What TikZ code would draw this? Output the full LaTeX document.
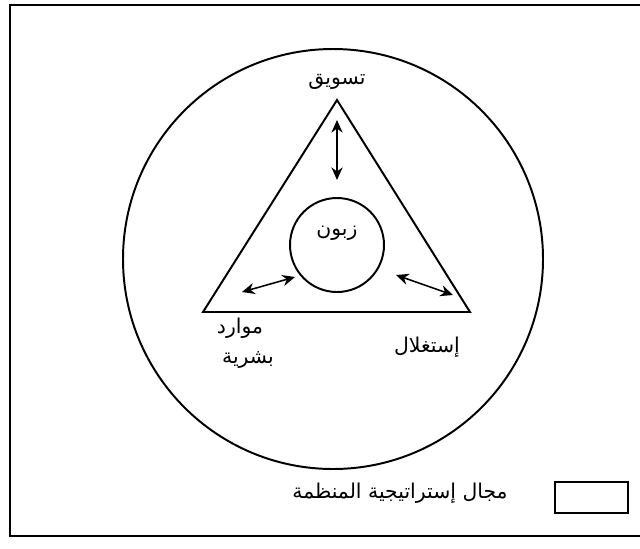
\documentclass[tikz,border=0pt]{standalone}
\usepackage{fontspec}
\newfontfamily\arabicfont[Script=Arabic]{DejaVu Sans}
\TeXXeTstate=1
\usetikzlibrary{arrows.meta}

\begin{document}
\begin{tikzpicture}[
  line width=1.4pt,
  every node/.style = {font=\arabicfont\fontsize{14.5}{16}\selectfont},
  ring/.style = {draw, circle, inner sep=0pt},
  twoway/.style = {{Stealth[length=9pt,width=8pt]}-{Stealth[length=9pt,width=8pt]}, line width=1.1pt},
]
\useasboundingbox (0,0) rectangle (16,-13.7);

% ── Outer frame (right side runs off the page) ──────────────────────────
\draw (16.3,-0.125) -- (0.25,-0.125) -- (0.25,-13.4) -- (16.3,-13.4);

% ── Strategy field and triangle ─────────────────────────────────────────
\node[ring, minimum size=10.5cm] (field) at (8.325,-6.475) {};

\coordinate (apex)  at (8.425,-2.5);
\coordinate (left)  at (5.075,-7.8);
\coordinate (right) at (11.75,-7.8);
\draw[line join=miter] (apex) -- (left) -- (right) -- cycle;

% ── Client in the middle ────────────────────────────────────────────────
\node[ring, minimum size=2.35cm] (client) at (8.425,-6.125) {};
\node (clientlbl) at (8.425,-5.825) {\beginR زبون\endR};

% ── Corner labels ───────────────────────────────────────────────────────
\node (marketing) at (8.425,-2.05)  {\beginR تسويق\endR};
\node (resources) at (6.0,-8.2)     {\beginR موارد\endR};
\node (human)     at (6.2,-9.0)     {\beginR بشرية\endR};
\node (exploit)   at (10.675,-8.675) {\beginR إستغلال\endR};

% ── Two-way arrows ──────────────────────────────────────────────────────
\coordinate (t1) at (8.425,-3.0);   \coordinate (t2) at (8.425,-4.5);
\coordinate (l1) at (6.05,-7.3);    \coordinate (l2) at (7.375,-6.925);
\coordinate (r1) at (9.9,-6.875);   \coordinate (r2) at (11.325,-7.375);
\draw[twoway] (t1) -- (t2);
\draw[twoway] (l1) -- (l2);
\draw[twoway] (r1) -- (r2);

% ── Legend ──────────────────────────────────────────────────────────────
\node[draw, minimum width=1.825cm, minimum height=0.775cm] (key) at (14.79,-12.44) {};
\node (keylbl) at (10.0,-12.325) {\beginR مجال إستراتيجية المنظمة\endR};

\end{tikzpicture}
\end{document}
